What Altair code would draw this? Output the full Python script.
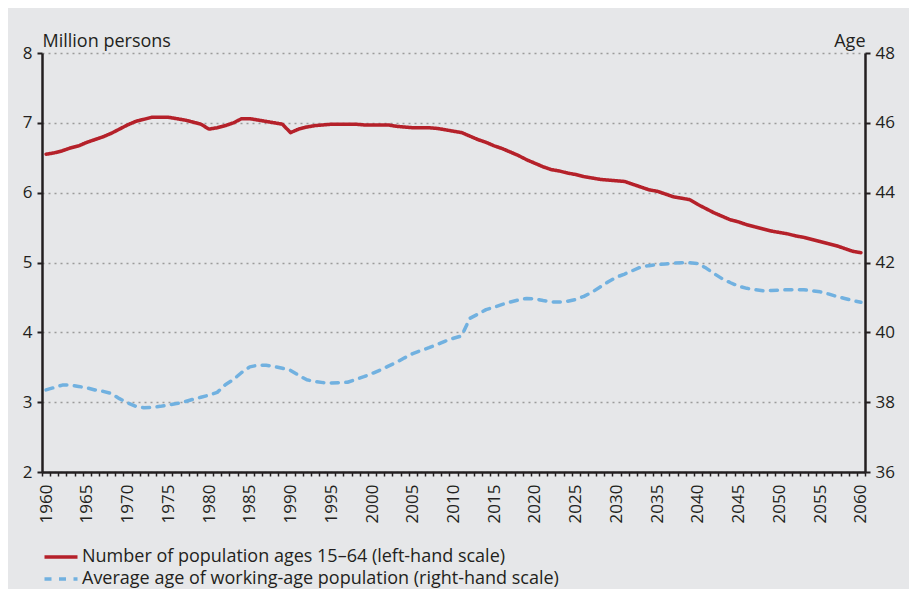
import altair as alt
import pandas as pd

# ---------------- data ----------------
years = list(range(1960, 2061))

population_15_64 = [
    6.55, 6.57, 6.60, 6.64, 6.67, 6.72, 6.76, 6.80, 6.85, 6.91,  # 1960-69
    6.97, 7.02, 7.05, 7.08, 7.08, 7.08, 7.06, 7.04, 7.01, 6.98,  # 1970-79
    6.91, 6.93, 6.96, 7.00, 7.06, 7.06, 7.04, 7.02, 7.00, 6.98,  # 1980-89
    6.86, 6.91, 6.94, 6.96, 6.97, 6.98, 6.98, 6.98, 6.98, 6.97,  # 1990-99
    6.97, 6.97, 6.97, 6.95, 6.94, 6.93, 6.93, 6.93, 6.92, 6.90,  # 2000-09
    6.88, 6.86, 6.81, 6.76, 6.72, 6.67, 6.63, 6.58, 6.53, 6.47,  # 2010-19
    6.42, 6.37, 6.33, 6.31, 6.28, 6.26, 6.23, 6.21, 6.19, 6.18,  # 2020-29
    6.17, 6.16, 6.12, 6.08, 6.04, 6.02, 5.98, 5.94, 5.92, 5.90,  # 2030-39
    5.83, 5.77, 5.71, 5.66, 5.61, 5.58, 5.54, 5.51, 5.48, 5.45,  # 2040-49
    5.43, 5.41, 5.38, 5.36, 5.33, 5.30, 5.27, 5.24, 5.20, 5.16,  # 2050-59
    5.14,                                                        # 2060
]

average_age = [
    38.35, 38.42, 38.49, 38.49, 38.45, 38.41, 38.35, 38.31, 38.25, 38.10,  # 1960-69
    37.98, 37.88, 37.84, 37.85, 37.88, 37.92, 37.96, 38.01, 38.08, 38.14,  # 1970-79
    38.20, 38.28, 38.50, 38.65, 38.85, 39.01, 39.06, 39.06, 39.02, 38.97,  # 1980-89
    38.91, 38.77, 38.64, 38.59, 38.56, 38.55, 38.56, 38.57, 38.65, 38.73,  # 1990-99
    38.82, 38.92, 39.03, 39.14, 39.27, 39.39, 39.48, 39.56, 39.65, 39.75,  # 2000-09
    39.83, 39.90, 40.40, 40.52, 40.65, 40.72, 40.80, 40.87, 40.93, 40.97,  # 2010-19
    40.96, 40.91, 40.87, 40.87, 40.89, 40.94, 41.03, 41.15, 41.30, 41.45,  # 2020-29
    41.58, 41.67, 41.77, 41.87, 41.91, 41.94, 41.96, 41.98, 41.99, 41.99,  # 2030-39
    41.97, 41.84, 41.68, 41.53, 41.42, 41.32, 41.26, 41.22, 41.19, 41.20,  # 2040-49
    41.21, 41.22, 41.22, 41.22, 41.19, 41.16, 41.10, 41.03, 40.97, 40.91,  # 2050-59
    40.86,                                                                 # 2060
]

series_names = [
    "Number of population ages 15–64 (left-hand scale)",
    "Average age of working-age population (right-hand scale)",
]
left_ticks = [2, 3, 4, 5, 6, 7, 8]
right_ticks = [36, 38, 40, 42, 44, 46, 48]
label_years = list(range(1960, 2061, 5))
category_edges = [y - 0.5 for y in range(1960, 2062)]

# ---------------- styling ----------------
RED = "#b5212a"
BLUE = "#71b1e0"
INK = "#231f20"
BG = "#e6e7e9"
FONT = "Open Sans"
FS = 17      # tick labels
FS_TXT = 18  # axis titles and legend

df_pop = pd.DataFrame({"year": years, "value": population_15_64, "series": series_names[0]})
df_age = pd.DataFrame({"year": years, "value": average_age, "series": series_names[1]})

x_scale = alt.Scale(domain=[1959.5, 2060.5], nice=False, zero=False)
x_axis = alt.Axis(
    values=category_edges + label_years,
    labelExpr="datum.value % 5 == 0 ? format(datum.value, 'd') : ''",
    labelAngle=-90,
    labelOverlap=False,
    labelFlush=False,
    labelFontSize=FS,
    labelColor=INK,
    labelPadding=8,
    tickOpacity={"condition": {"test": "datum.value % 1 != 0", "value": 1}, "value": 0},
    tickSize=4,
    tickWidth=1.5,
    tickColor=INK,
    domainColor=INK,
    domainWidth=2.5,
    grid=False,
    title=None,
)

# wide horizontal stroke symbol (33 px long) with a small layout footprint
legend_cfg = dict(
    orient="none",
    legendX=-1,
    legendY=495,
    direction="vertical",
    title=None,
    symbolType="M-3,0H3",
    symbolSize=121,
    symbolOffset=11,
    symbolStrokeWidth=3.5,
    labelFontSize=FS_TXT,
    labelColor=INK,
    labelOffset=12,
    labelLimit=1000,
    rowPadding=4,
    padding=0,
)

color = alt.Color(
    "series:N",
    scale=alt.Scale(domain=series_names, range=[RED, BLUE]),
    legend=alt.Legend(**legend_cfg),
)
dash = alt.StrokeDash(
    "series:N",
    scale=alt.Scale(domain=series_names, range=[[1, 0], [7, 7.5]]),
    legend=alt.Legend(**legend_cfg),
)

left = alt.Chart(df_pop).mark_line(strokeWidth=3.5, strokeCap="round", strokeJoin="round").encode(
    x=alt.X("year:Q", scale=x_scale, axis=x_axis),
    y=alt.Y(
        "value:Q",
        scale=alt.Scale(domain=[2, 8], nice=False, zero=False),
        axis=alt.Axis(
            values=left_ticks,
            grid=True,
            gridDash=[2, 4],
            gridColor="#9b9b9b",
            gridWidth=1.3,
            tickSize=5,
            tickWidth=2,
            tickColor=INK,
            domainColor=INK,
            domainWidth=2.5,
            labelFontSize=FS,
            labelColor=INK,
            labelPadding=5,
            title="Million persons",
            titleAngle=0,
            titleAlign="left",
            titleBaseline="alphabetic",
            titleX=0,
            titleY=-7,
            titleFontSize=FS_TXT,
            titleFontWeight="normal",
            titleColor=INK,
        ),
    ),
    color=color,
    strokeDash=dash,
)

right = alt.Chart(df_age).mark_line(strokeWidth=3.5, strokeCap="round", strokeJoin="round").encode(
    x=alt.X("year:Q", scale=x_scale, axis=x_axis),
    y=alt.Y(
        "value:Q",
        scale=alt.Scale(domain=[36, 48], nice=False, zero=False),
        axis=alt.Axis(
            orient="right",
            values=right_ticks,
            grid=False,
            tickSize=5,
            tickWidth=2,
            tickColor=INK,
            domainColor=INK,
            domainWidth=2.5,
            labelFontSize=FS,
            labelColor=INK,
            labelPadding=5,
            title="Age",
            titleAngle=0,
            titleAlign="right",
            titleBaseline="alphabetic",
            titleX=0,
            titleY=-7,
            titleFontSize=FS_TXT,
            titleFontWeight="normal",
            titleColor=INK,
        ),
    ),
    color=color,
    strokeDash=dash,
)

chart = (
    alt.layer(left, right)
    .resolve_scale(y="independent")
    .properties(
        width=823,
        height=419,
        background=BG,
        padding={"left": 34, "top": 45, "right": 44, "bottom": 117},
        autosize=alt.AutoSizeParams(type="none"),
    )
    .configure(font=FONT)
    .configure_view(strokeWidth=0)
)

chart.save("out.html", embed_options={"renderer": "svg", "actions": False})
